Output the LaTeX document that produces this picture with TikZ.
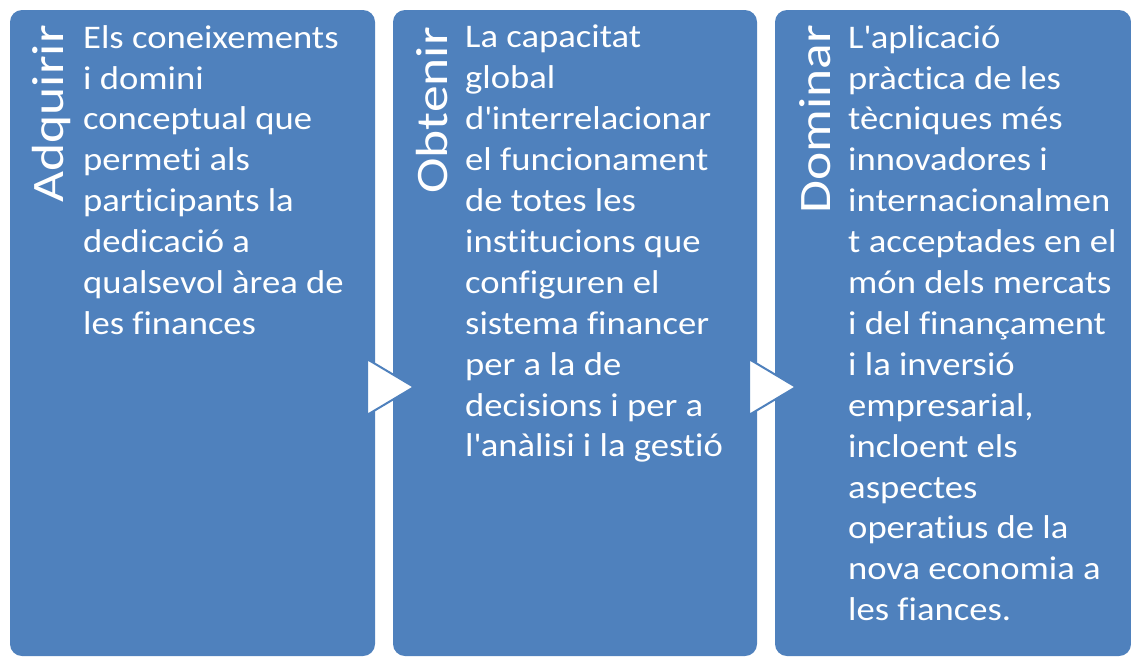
\documentclass[tikz,border=0pt]{standalone}
\usepackage{fontspec}
\setmainfont{Carlito}[FakeStretch=1.11, Ligatures=NoCommon]
\newfontfamily\headfont{Carlito}[FakeStretch=1.19, Ligatures=NoCommon]
\usetikzlibrary{positioning,shapes.geometric}
\definecolor{boxblue}{RGB}{79,129,189}

\begin{document}
\begin{tikzpicture}[x=1pt,y=-1pt,
                    stage/.style={fill=boxblue, rounded corners=12pt, minimum height=646pt,
                                  inner sep=0pt, outer sep=0pt},
                    heading/.style={rotate=90, anchor=base east, inner sep=0pt, text=white,
                                    font=\headfont\fontsize{45}{54}\selectfont},
                    detail/.style={anchor=north west, align=left, inner sep=0pt, text=white,
                                   font=\fontsize{33}{40.9}\selectfont,
                                   execute at begin node={\rule{0pt}{26pt}}},
                    marker/.style={isosceles triangle, isosceles triangle stretches,
                                   minimum width=56pt, minimum height=47pt, inner sep=0pt,
                                   outer sep=0pt, fill=white, draw=boxblue, line width=2pt,
                                   anchor=apex}]

  \useasboundingbox (0,0) rectangle (1131,657);

  \node[stage, minimum width=365pt, anchor=north west] (A) at (10,10) {};
  \node[stage, minimum width=364pt, right=18pt of A]   (B) {};
  \node[stage, minimum width=356pt, right=18pt of B]   (C) {};

  \node[marker] (AB) at (414,387) {};
  \node[marker] (BC) at (796,387) {};

  \node[heading] (Ah) at ([xshift=53pt, yshift=-15pt]A.north west) {Adquirir};
  \node[heading] (Bh) at ([xshift=54pt, yshift=-17pt]B.north west) {Obtenir};
  \node[heading] (Ch) at ([xshift=55pt, yshift=-15pt]C.north west) {Dominar};

  \node[detail] (At) at ([xshift=73pt, yshift=-15pt]A.north west)
    {Els coneixements\\ i domini\\ conceptual que\\ permeti als\\ participants la\\
     dedicació a\\ qualsevol àrea de\\ les finances};
  \node[detail] (Bt) at ([xshift=72pt, yshift=-15pt]B.north west)
    {La capacitat\\ global\\ d\textquotesingle interrelacionar\\ el funcionament\\
     de totes les\\ institucions que\\ configuren el\\ sistema financer\\ per a la de\\
     decisions i per a\\ l\textquotesingle anàlisi i la gestió};
  \node[detail] (Ct) at ([xshift=73pt, yshift=-15pt]C.north west)
    {L\textquotesingle aplicació\\ pràctica de les\\ tècniques més\\ innovadores i\\
     internacionalmen\\ t acceptades en el\\ món dels mercats\\ i del finançament\\
     i la inversió\\ empresarial,\\ incloent els\\ aspectes\\ operatius de la\\
     nova economia a\\ les fiances.};
\end{tikzpicture}
\end{document}
